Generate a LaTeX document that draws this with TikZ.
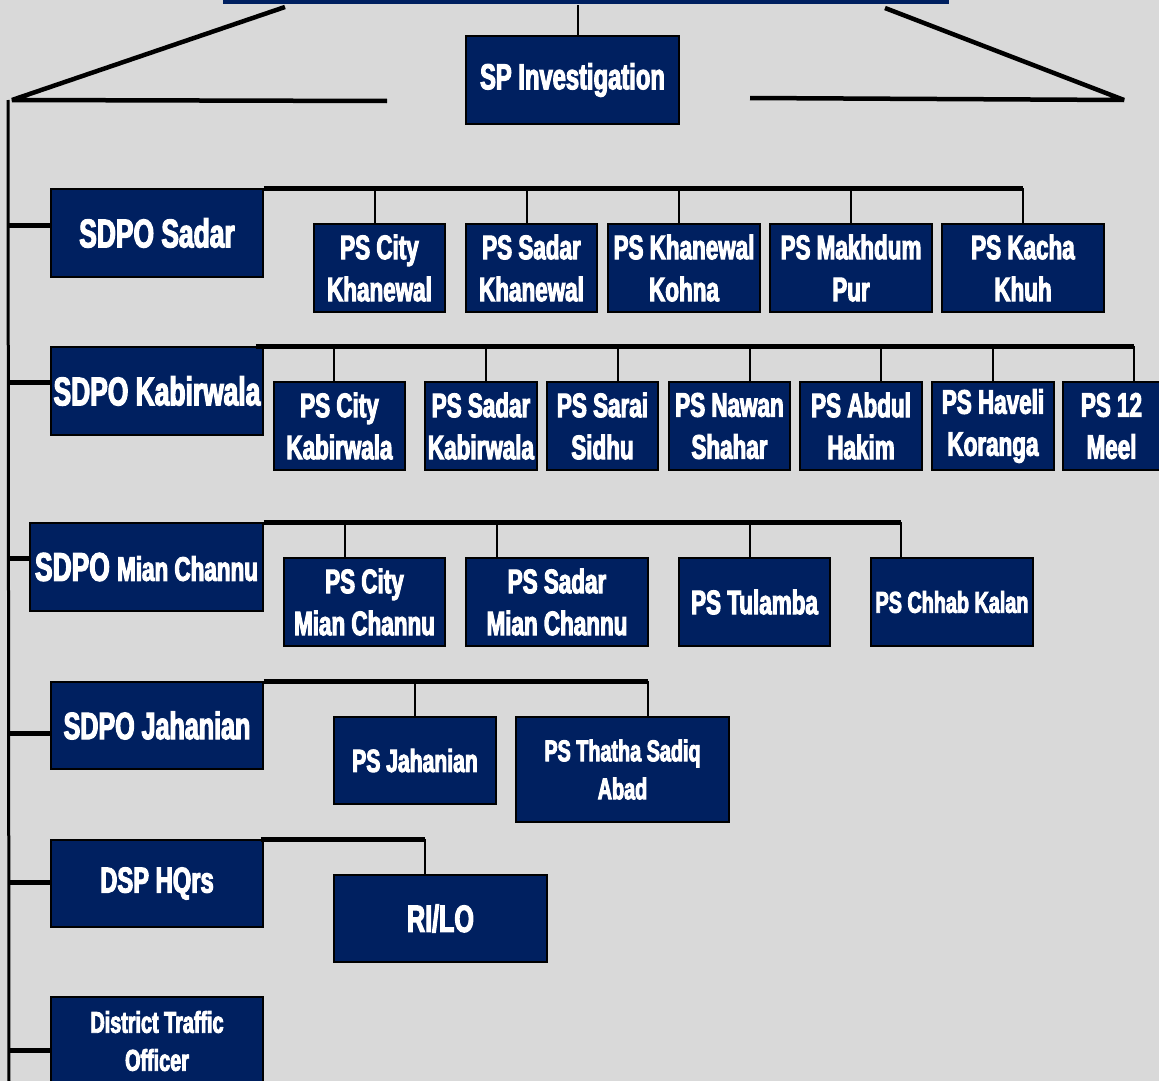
\documentclass[tikz,border=0pt]{standalone}
\usepackage{fontspec}
\setmainfont{Liberation Sans}[FakeStretch=0.66, BoldFeatures={FakeBold=3}]
\definecolor{bg}{RGB}{217,217,217}
\definecolor{navy}{RGB}{0,32,96}
\begin{document}
\begin{tikzpicture}[x=1pt,y=-1pt,
  box/.style={draw=black, line width=1.8pt, fill=navy, text=white, inner sep=0pt, align=center},
  fsz/.style 2 args={font=\fontsize{#1}{#2}\selectfont\bfseries},
  bar/.style={line width=5pt},
  drop/.style={line width=1.4pt},
  stub/.style={line width=5pt},
  spine/.style={line width=3pt},
  sz/.style 2 args={minimum width=#1pt, minimum height=#2pt}
]
\fill[bg] (0,0) rectangle (1159,1081);
\useasboundingbox (0,0) rectangle (1159,1081);

% top
\node[box, draw=none, sz={726}{44}] (top) at (586,-18) {};
\node[box, sz={213}{88}, fsz={36}{42}] (sp) at (572.5,80) {SP Investigation};
\draw[drop, line width=2pt] ([xshift=5.5pt]sp.north) -- ([xshift=5.5pt]sp.north |- top.south);

\coordinate (la) at (285,7);
\coordinate (lb) at (12,100);
\coordinate (lc) at (387,101);
\coordinate (ra) at (885,8);
\coordinate (rb) at (1124,100);
\coordinate (rc) at (750,98);
\draw[line width=4.5pt, line join=bevel] (la) -- (lb) -- (lc);
\draw[line width=4.5pt, line join=bevel] (ra) -- (rb) -- (rc);

% spine
\coordinate (spTop) at (8,100);
\coordinate (spBot) at (9,1081);
\draw[spine] (spTop) -- (spBot);

% SDPO Sadar
\node[box, sz={212}{88}, fsz={40}{46}] (sdpoS) at (157,233) {SDPO Sadar};
\node[box, sz={131}{88}, fsz={34}{42}] (psCK) at (379.5,268) {PS City\\Khanewal};
\node[box, sz={131}{88}, fsz={34}{42}] (psSK) at (531.5,268) {PS Sadar\\Khanewal};
\node[box, sz={152}{88}, fsz={34}{42}] (psKK) at (684,268) {PS Khanewal\\Kohna};
\node[box, sz={162}{88}, fsz={34}{42}] (psMP) at (851,268) {PS Makhdum\\Pur};
\node[box, sz={162}{88}, fsz={34}{42}] (psKh) at (1023,268) {PS Kacha\\Khuh};
\draw[bar] (sdpoS.north east) -- (sdpoS.north east -| psKh.north);
\draw[drop] ([xshift=-4.5pt]psCK.north) -- ([xshift=-4.5pt]psCK.north |- sdpoS.north);
\draw[drop] ([xshift=-4.5pt]psSK.north) -- ([xshift=-4.5pt]psSK.north |- sdpoS.north);
\draw[drop] ([xshift=-5pt]psKK.north) -- ([xshift=-5pt]psKK.north |- sdpoS.north);
\draw[drop] (psMP.north) -- (psMP.north |- sdpoS.north);
\draw[drop] (psKh.north) -- (psKh.north |- sdpoS.north);
\draw[stub] ([yshift=8pt]sdpoS.west) -- ([yshift=8pt]sdpoS.west -| spTop);

% SDPO Kabirwala
\node[box, sz={212}{88}, fsz={40}{46}] (sdpoK) at (157,391) {SDPO Kabirwala};
\node[box, sz={131}{88}, fsz={34}{42}] (psCKb) at (339.5,426) {PS City\\Kabirwala};
\node[box, sz={112}{88}, fsz={34}{42}] (psSKb) at (481,426) {PS Sadar\\Kabirwala};
\node[box, sz={111}{88}, fsz={34}{42}] (psSS) at (602.5,426) {PS Sarai\\Sidhu};
\node[box, sz={121}{88}, fsz={34}{42}] (psNS) at (729.5,426) {PS Nawan\\Shahar};
\node[box, sz={122}{88}, fsz={34}{42}] (psAH) at (861,426) {PS Abdul\\Hakim};
\node[box, sz={122}{88}, fsz={34}{42}] (psHK) at (993,426) {PS Haveli\\Koranga};
\node[box, sz={97}{88}, fsz={34}{42}] (ps12) at (1111.5,426) {PS 12\\Meel};
\coordinate (k12) at ([xshift=22.5pt]ps12.north |- sdpoK.north);
\draw[bar] ([xshift=-8pt]sdpoK.north east) -- (k12);
\draw[drop] ([xshift=-5.5pt]psCKb.north) -- ([xshift=-5.5pt]psCKb.north |- sdpoK.north);
\draw[drop] ([xshift=5pt]psSKb.north) -- ([xshift=5pt]psSKb.north |- sdpoK.north);
\draw[drop] ([xshift=15.5pt]psSS.north) -- ([xshift=15.5pt]psSS.north |- sdpoK.north);
\draw[drop] ([xshift=20.5pt]psNS.north) -- ([xshift=20.5pt]psNS.north |- sdpoK.north);
\draw[drop] ([xshift=20pt]psAH.north) -- ([xshift=20pt]psAH.north |- sdpoK.north);
\draw[drop] (psHK.north) -- (psHK.north |- sdpoK.north);
\draw[drop] ([xshift=22.5pt]ps12.north) -- (k12);
\draw[stub] ([yshift=9pt]sdpoK.west) -- ([yshift=9pt]sdpoK.west -| spTop);

% SDPO Mian Channu
\node[box, sz={233}{88}, font=\bfseries] (sdpoMC) at (146.5,567) {\fontsize{40}{46}\selectfont SDPO \fontsize{34}{42}\selectfont Mian Channu};
\node[box, sz={161}{88}, fsz={34}{42}] (psCMC) at (364.5,602) {PS City\\Mian Channu};
\node[box, sz={182}{88}, fsz={34}{42}] (psSMC) at (557,602) {PS Sadar\\Mian Channu};
\node[box, sz={151}{88}, fsz={34}{42}] (psTu) at (754.5,602) {PS Tulamba};
\node[box, sz={162}{88}, fsz={30}{38}] (psCh) at (952,602) {PS Chhab Kalan};
\draw[bar] (sdpoMC.north east) -- ([xshift=-51pt]psCh.north |- sdpoMC.north);
\draw[drop] ([xshift=-19.5pt]psCMC.north) -- ([xshift=-19.5pt]psCMC.north |- sdpoMC.north);
\draw[drop] ([xshift=-60pt]psSMC.north) -- ([xshift=-60pt]psSMC.north |- sdpoMC.north);
\draw[drop] ([xshift=-4.5pt]psTu.north) -- ([xshift=-4.5pt]psTu.north |- sdpoMC.north);
\draw[drop] ([xshift=-51pt]psCh.north) -- ([xshift=-51pt]psCh.north |- sdpoMC.north);
\draw[stub] ([yshift=9pt]sdpoMC.west) -- ([yshift=9pt]sdpoMC.west -| spTop);

% SDPO Jahanian
\node[box, sz={212}{87}, fsz={38}{44}] (sdpoJ) at (157,725.5) {SDPO Jahanian};
\node[box, sz={162}{87}, fsz={32}{40}] (psJ) at (415,760.5) {PS Jahanian};
\node[box, sz={213}{105}, fsz={30}{38}] (psTS) at (622.5,769.5) {PS Thatha Sadiq\\Abad};
\draw[bar] (sdpoJ.north east) -- ([xshift=25.5pt]psTS.north |- sdpoJ.north);
\draw[drop] (psJ.north) -- (psJ.north |- sdpoJ.north);
\draw[drop] ([xshift=25.5pt]psTS.north) -- ([xshift=25.5pt]psTS.north |- sdpoJ.north);
\draw[stub] ([yshift=-8pt]sdpoJ.west) -- ([yshift=-8pt]sdpoJ.west -| spTop);

% DSP HQrs
\node[box, sz={212}{87}, fsz={36}{42}] (dsp) at (157,883.5) {DSP HQrs};
\node[box, sz={213}{87}, fsz={38}{44}] (rilo) at (440.5,918.5) {RI/LO};
\draw[bar] ([xshift=-3pt]dsp.north east) -- ([xshift=-15.5pt]rilo.north |- dsp.north);
\draw[drop] ([xshift=-15.5pt]rilo.north) -- ([xshift=-15.5pt]rilo.north |- dsp.north);
\draw[stub] ([yshift=1.5pt]dsp.west) -- ([yshift=1.5pt]dsp.west -| spTop);

% District Traffic Officer
\node[box, sz={212}{88}, fsz={30}{38}] (dto) at (157,1041) {District Traffic\\Officer};
\draw[stub] ([yshift=-9pt]dto.west) -- ([yshift=-9pt]dto.west -| spTop);
\end{tikzpicture}
\end{document}
